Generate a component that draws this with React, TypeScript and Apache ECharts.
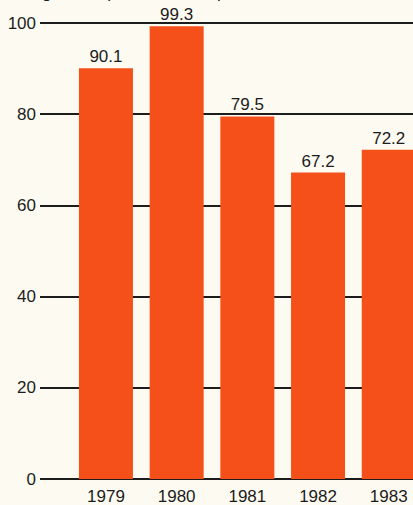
import React, { useEffect, useRef } from "react";
import * as echarts from "echarts";

// Annual prices, cents per pound
const years = ["1979", "1980", "1981", "1982", "1983"];
const prices = [90.1, 99.3, 79.5, 67.2, 72.2];
const axisMin = 0;
const axisMax = 100;
const axisStep = 20;
const heading = "Average retail price, in cents per lb.";

const INK = "#1c1c1c";
const BAR = "#f5501a";
const PAPER = "#fdfbf1";
const FONT = "'Liberation Sans', Arial, Helvetica, sans-serif";

export default function App() {
  const ref = useRef<HTMLDivElement>(null);

  useEffect(() => {
    if (!ref.current) return;
    const chart = echarts.init(ref.current, undefined, { renderer: "svg" });
    chart.setOption({
      animation: false,
      backgroundColor: PAPER,
      textStyle: { fontFamily: FONT },
      graphic: [
        {
          type: "text",
          left: -2,
          top: -16,
          style: { text: heading, font: `17px ${FONT}`, fill: INK },
        },
      ],
      grid: [
        // rules grid: horizontal lines run from the value labels to the edge
        { left: 40, right: 0, top: 23, height: 456, outerBoundsMode: "none" },
        // bars grid
        { left: 70.6, width: 353.5, top: 23, height: 456, outerBoundsMode: "none" },
      ],
      xAxis: [
        { type: "value", gridIndex: 0, show: false, min: 0, max: 1 },
        {
          type: "category",
          gridIndex: 1,
          data: years,
          axisLine: { show: false },
          axisTick: { show: false },
          axisLabel: { color: INK, fontSize: 17, fontFamily: FONT, margin: 9 },
        },
      ],
      yAxis: [
        {
          type: "value",
          gridIndex: 0,
          min: axisMin,
          max: axisMax,
          interval: axisStep,
          axisLine: { show: false },
          axisTick: { show: false },
          axisLabel: { color: INK, fontSize: 17, fontFamily: FONT, margin: 4 },
          splitLine: { show: true, lineStyle: { color: INK, width: 2 } },
        },
        {
          type: "value",
          gridIndex: 1,
          min: axisMin,
          max: axisMax,
          interval: axisStep,
          show: false,
          splitLine: { show: false },
        },
      ],
      series: [
        {
          type: "bar",
          xAxisIndex: 1,
          yAxisIndex: 1,
          data: prices,
          barCategoryGap: "23.6%",
          itemStyle: { color: BAR },
          label: {
            show: true,
            position: "top",
            distance: 3,
            color: INK,
            fontSize: 17,
            fontFamily: FONT,
            formatter: (p: any) => Number(p.value).toFixed(1),
          },
        },
      ],
    });
    return () => chart.dispose();
  }, []);

  return (
    <div
      style={{
        position: "fixed",
        left: 0,
        top: 0,
        width: 413,
        height: 505,
        overflow: "hidden",
        background: PAPER,
      }}
    >
      <div ref={ref} style={{ width: 440, height: 505 }} />
    </div>
  );
}
